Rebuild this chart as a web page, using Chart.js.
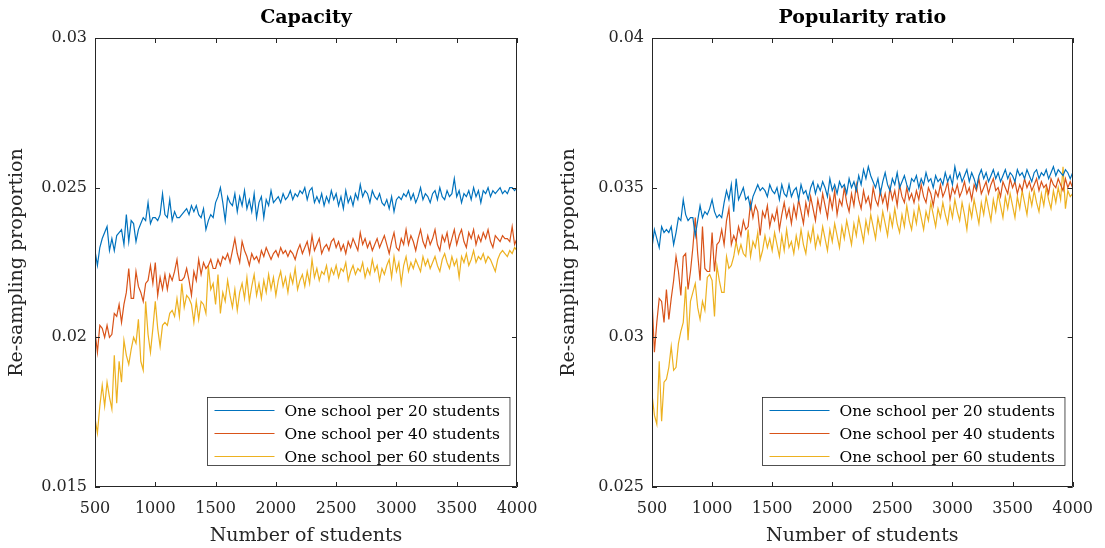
<!DOCTYPE html>
<html lang="en">
<head>
  <meta charset="UTF-8">
  <title>Re-sampling proportion</title>
  <style>
    body { margin: 0; background: #fff; }
    #wrap { position: relative; width: 1105px; height: 548px; }
    .pane { position: absolute; top: 0; height: 548px; }
    #left { left: 0; width: 552px; }
    #right { left: 552px; width: 553px; }
  </style>
</head>
<body>
  <div id="wrap">
    <div class="pane" id="left"><canvas id="capChart"></canvas></div>
    <div class="pane" id="right"><canvas id="popChart"></canvas></div>
  </div>

  <script src="https://cdn.jsdelivr.net/npm/chart.js"></script>

  <script>
    // number of students: 500, 520, ..., 4000
    const xStart = 500, xEnd = 4000, xStep = 20;
    const students = [];
    for (let s = xStart; s <= xEnd; s += xStep) students.push(s);

    const seriesLabels = ['One school per 20 students', 'One school per 40 students', 'One school per 60 students'];
    const colors = ['#0072BD', '#D95319', '#EDB120'];
    const xTicks = [500, 1000, 1500, 2000, 2500, 3000, 3500, 4000];
    const capTicks = [0.015, 0.02, 0.025, 0.03];
    const popTicks = [0.025, 0.03, 0.035, 0.04];

    // Capacity panel
    const capBlue = [
      0.0229,0.0224,0.0230,0.0233,0.0235,0.0237,0.0229,0.0233,0.0229,0.0234,
      0.0235,0.0236,0.0231,0.0241,0.0232,0.0239,0.0238,0.0232,0.0236,0.0238,
      0.0240,0.0239,0.0245,0.0238,0.0240,0.0240,0.0239,0.0241,0.0248,0.0241,
      0.0240,0.0246,0.0239,0.0242,0.0240,0.0240,0.0241,0.0242,0.0243,0.0241,
      0.0244,0.0242,0.0244,0.0241,0.0240,0.0243,0.0236,0.0239,0.0241,0.0240,
      0.0245,0.0247,0.0250,0.0245,0.0239,0.0247,0.0245,0.0244,0.0248,0.0242,
      0.0247,0.0244,0.0249,0.0243,0.0246,0.0242,0.0248,0.0240,0.0245,0.0247,
      0.0240,0.0246,0.0244,0.0249,0.0245,0.0246,0.0247,0.0245,0.0248,0.0246,
      0.0247,0.0249,0.0246,0.0248,0.0247,0.0249,0.0248,0.0250,0.0246,0.0249,
      0.0250,0.0245,0.0247,0.0245,0.0248,0.0244,0.0247,0.0245,0.0249,0.0246,
      0.0248,0.0244,0.0247,0.0243,0.0249,0.0245,0.0247,0.0244,0.0248,0.0246,
      0.0251,0.0247,0.0249,0.0248,0.0245,0.0249,0.0247,0.0246,0.0248,0.0245,
      0.0244,0.0246,0.0243,0.0247,0.0242,0.0246,0.0247,0.0246,0.0248,0.0247,
      0.0249,0.0246,0.0248,0.0245,0.0247,0.0250,0.0246,0.0248,0.0247,0.0245,
      0.0248,0.0249,0.0246,0.0250,0.0247,0.0246,0.0249,0.0247,0.0248,0.0253,
      0.0247,0.0249,0.0245,0.0248,0.0247,0.0249,0.0246,0.0250,0.0247,0.0249,
      0.0245,0.0249,0.0248,0.0250,0.0247,0.0249,0.0248,0.0249,0.0250,0.0248,
      0.0249,0.0248,0.0250,0.0250,0.0249,0.0250
    ];
    const capRed = [
      0.0202,0.0195,0.0204,0.0203,0.0200,0.0204,0.0200,0.0201,0.0208,0.0207,
      0.0211,0.0205,0.0211,0.0215,0.0223,0.0213,0.0213,0.0222,0.0217,0.0215,
      0.0212,0.0218,0.0219,0.0224,0.0218,0.0225,0.0214,0.0220,0.0216,0.0221,
      0.0216,0.0221,0.0219,0.0222,0.0226,0.0219,0.0219,0.0220,0.0223,0.0219,
      0.0214,0.0222,0.0219,0.0226,0.0221,0.0225,0.0223,0.0224,0.0226,0.0223,
      0.0223,0.0226,0.0224,0.0227,0.0226,0.0228,0.0225,0.0229,0.0233,0.0228,
      0.0225,0.0232,0.0229,0.0227,0.0224,0.0228,0.0226,0.0227,0.0225,0.0229,
      0.0227,0.0230,0.0228,0.0226,0.0228,0.0229,0.0227,0.0230,0.0228,0.0229,
      0.0227,0.0229,0.0228,0.0226,0.0229,0.0231,0.0228,0.0230,0.0232,0.0228,
      0.0234,0.0229,0.0231,0.0233,0.0228,0.0230,0.0231,0.0229,0.0232,0.0233,
      0.0230,0.0232,0.0229,0.0231,0.0228,0.0232,0.0230,0.0233,0.0231,0.0229,
      0.0235,0.0231,0.0233,0.0230,0.0232,0.0229,0.0231,0.0233,0.0230,0.0232,
      0.0234,0.0231,0.0228,0.0232,0.0235,0.0230,0.0229,0.0233,0.0231,0.0236,
      0.0231,0.0234,0.0232,0.0229,0.0233,0.0236,0.0232,0.0230,0.0234,0.0231,
      0.0233,0.0236,0.0231,0.0229,0.0234,0.0232,0.0235,0.0230,0.0233,0.0236,
      0.0231,0.0234,0.0236,0.0232,0.0230,0.0235,0.0233,0.0236,0.0231,0.0234,
      0.0232,0.0235,0.0233,0.0236,0.0232,0.0230,0.0234,0.0233,0.0232,0.0234,
      0.0233,0.0233,0.0232,0.0237,0.0231,0.0233
    ];
    const capYellow = [
      0.0173,0.0168,0.0177,0.0184,0.0177,0.0185,0.0180,0.0176,0.0194,0.0178,
      0.0192,0.0185,0.0199,0.0194,0.0191,0.0196,0.0200,0.0198,0.0206,0.0192,
      0.0189,0.0212,0.0201,0.0195,0.0203,0.0212,0.0203,0.0197,0.0204,0.0205,
      0.0204,0.0208,0.0209,0.0207,0.0213,0.0207,0.0218,0.0210,0.0214,0.0213,
      0.0211,0.0205,0.0212,0.0206,0.0212,0.0211,0.0208,0.0224,0.0216,0.0218,
      0.0211,0.0221,0.0208,0.0215,0.0212,0.0219,0.0214,0.0210,0.0216,0.0209,
      0.0215,0.0218,0.0213,0.0220,0.0212,0.0217,0.0221,0.0214,0.0218,0.0213,
      0.0219,0.0215,0.0221,0.0216,0.0220,0.0214,0.0219,0.0222,0.0217,0.0220,
      0.0215,0.0221,0.0218,0.0223,0.0216,0.0219,0.0221,0.0217,0.0222,0.0218,
      0.0226,0.0220,0.0223,0.0219,0.0222,0.0221,0.0224,0.0219,0.0223,0.0221,
      0.0224,0.0220,0.0223,0.0222,0.0225,0.0219,0.0222,0.0224,0.0221,0.0223,
      0.0222,0.0225,0.0220,0.0223,0.0221,0.0226,0.0222,0.0224,0.0219,0.0223,
      0.0221,0.0224,0.0226,0.0220,0.0227,0.0222,0.0225,0.0218,0.0224,0.0227,
      0.0222,0.0225,0.0223,0.0226,0.0224,0.0222,0.0227,0.0224,0.0226,0.0223,
      0.0225,0.0227,0.0224,0.0222,0.0226,0.0228,0.0225,0.0223,0.0227,0.0224,
      0.0226,0.0220,0.0227,0.0225,0.0228,0.0224,0.0226,0.0229,0.0225,0.0227,
      0.0226,0.0228,0.0225,0.0227,0.0226,0.0224,0.0222,0.0226,0.0228,0.0229,
      0.0228,0.0227,0.0229,0.0228,0.0230,0.0229
    ];

    // Popularity ratio panel
    const popBlue = [
      0.0330,0.0336,0.0333,0.0330,0.0337,0.0335,0.0336,0.0335,0.0337,0.0331,
      0.0335,0.0340,0.0339,0.0346,0.0341,0.0339,0.0340,0.0340,0.0334,0.0339,
      0.0344,0.0340,0.0342,0.0341,0.0343,0.0346,0.0342,0.0340,0.0341,0.0340,
      0.0345,0.0349,0.0346,0.0351,0.0342,0.0353,0.0346,0.0348,0.0350,0.0346,
      0.0347,0.0343,0.0347,0.0349,0.0351,0.0349,0.0350,0.0349,0.0347,0.0351,
      0.0349,0.0348,0.0350,0.0346,0.0351,0.0348,0.0347,0.0351,0.0347,0.0349,
      0.0350,0.0346,0.0351,0.0348,0.0349,0.0346,0.0350,0.0352,0.0348,0.0351,
      0.0349,0.0352,0.0350,0.0347,0.0353,0.0349,0.0351,0.0348,0.0352,0.0350,
      0.0351,0.0348,0.0353,0.0350,0.0352,0.0349,0.0354,0.0351,0.0356,0.0353,
      0.0357,0.0354,0.0352,0.0350,0.0353,0.0348,0.0352,0.0355,0.0351,0.0349,
      0.0353,0.0351,0.0355,0.0350,0.0352,0.0354,0.0351,0.0349,0.0353,0.0352,
      0.0354,0.0350,0.0353,0.0351,0.0355,0.0352,0.0353,0.0350,0.0354,0.0352,
      0.0353,0.0351,0.0355,0.0352,0.0354,0.0351,0.0357,0.0353,0.0355,0.0352,
      0.0354,0.0356,0.0352,0.0355,0.0353,0.0350,0.0354,0.0356,0.0353,0.0355,
      0.0352,0.0354,0.0356,0.0353,0.0355,0.0352,0.0354,0.0356,0.0353,0.0355,
      0.0354,0.0352,0.0356,0.0354,0.0355,0.0353,0.0356,0.0354,0.0352,0.0355,
      0.0356,0.0353,0.0355,0.0354,0.0356,0.0353,0.0355,0.0357,0.0354,0.0356,
      0.0355,0.0354,0.0356,0.0355,0.0353,0.0355
    ];
    const popRed = [
      0.0313,0.0295,0.0305,0.0313,0.0312,0.0305,0.0316,0.0306,0.0313,0.0319,
      0.0327,0.0322,0.0314,0.0327,0.0328,0.0316,0.0322,0.0330,0.0340,0.0328,
      0.0319,0.0337,0.0323,0.0322,0.0322,0.0335,0.0322,0.0331,0.0332,0.0336,
      0.0331,0.0339,0.0343,0.0331,0.0334,0.0332,0.0337,0.0334,0.0339,0.0336,
      0.0337,0.0345,0.0340,0.0344,0.0342,0.0334,0.0342,0.0340,0.0344,0.0337,
      0.0341,0.0339,0.0343,0.0336,0.0341,0.0345,0.0340,0.0343,0.0338,0.0344,
      0.0340,0.0346,0.0342,0.0338,0.0345,0.0341,0.0347,0.0343,0.0339,0.0346,
      0.0342,0.0348,0.0344,0.0340,0.0347,0.0343,0.0349,0.0341,0.0346,0.0344,
      0.0350,0.0345,0.0342,0.0348,0.0344,0.0351,0.0346,0.0343,0.0349,0.0345,
      0.0347,0.0343,0.0350,0.0346,0.0344,0.0349,0.0345,0.0348,0.0343,0.0350,
      0.0346,0.0349,0.0344,0.0351,0.0347,0.0345,0.0350,0.0346,0.0348,0.0345,
      0.0349,0.0346,0.0351,0.0347,0.0345,0.0350,0.0348,0.0344,0.0349,0.0347,
      0.0351,0.0347,0.0349,0.0352,0.0346,0.0350,0.0348,0.0351,0.0347,0.0349,
      0.0352,0.0348,0.0350,0.0346,0.0351,0.0349,0.0353,0.0348,0.0350,0.0352,
      0.0348,0.0351,0.0353,0.0349,0.0350,0.0347,0.0352,0.0350,0.0348,0.0353,
      0.0350,0.0352,0.0348,0.0351,0.0349,0.0353,0.0350,0.0352,0.0349,0.0351,
      0.0353,0.0349,0.0352,0.0350,0.0351,0.0348,0.0353,0.0351,0.0350,0.0353,
      0.0351,0.0349,0.0353,0.0350,0.0352,0.0350
    ];
    const popYellow = [
      0.0281,0.0274,0.0271,0.0292,0.0272,0.0285,0.0286,0.0290,0.0297,0.0289,
      0.0290,0.0298,0.0302,0.0305,0.0317,0.0299,0.0312,0.0315,0.0318,0.0310,
      0.0306,0.0312,0.0309,0.0320,0.0321,0.0319,0.0307,0.0324,0.0319,0.0315,
      0.0315,0.0327,0.0323,0.0324,0.0327,0.0332,0.0328,0.0331,0.0328,0.0327,
      0.0336,0.0327,0.0332,0.0330,0.0335,0.0326,0.0329,0.0334,0.0330,0.0333,
      0.0329,0.0335,0.0331,0.0327,0.0334,0.0329,0.0336,0.0330,0.0332,0.0328,
      0.0334,0.0330,0.0336,0.0331,0.0328,0.0335,0.0332,0.0337,0.0330,0.0334,
      0.0331,0.0337,0.0333,0.0329,0.0336,0.0332,0.0338,0.0334,0.0330,0.0337,
      0.0333,0.0339,0.0335,0.0331,0.0338,0.0334,0.0340,0.0336,0.0332,0.0339,
      0.0335,0.0341,0.0337,0.0333,0.0340,0.0336,0.0342,0.0338,0.0334,0.0341,
      0.0337,0.0343,0.0338,0.0335,0.0341,0.0337,0.0344,0.0339,0.0336,0.0342,
      0.0338,0.0344,0.0340,0.0336,0.0342,0.0339,0.0345,0.0341,0.0337,0.0343,
      0.0340,0.0345,0.0341,0.0338,0.0344,0.0340,0.0346,0.0342,0.0339,0.0345,
      0.0341,0.0336,0.0344,0.0340,0.0346,0.0342,0.0338,0.0345,0.0341,0.0347,
      0.0343,0.0339,0.0346,0.0342,0.0348,0.0344,0.0340,0.0347,0.0343,0.0348,
      0.0344,0.0340,0.0347,0.0343,0.0349,0.0345,0.0341,0.0348,0.0344,0.0349,
      0.0345,0.0342,0.0348,0.0344,0.0350,0.0346,0.0343,0.0349,0.0345,0.0350,
      0.0346,0.0357,0.0343,0.0349,0.0347,0.0348
    ];

    const axisColor = '#262626';
    const serif = "'DejaVu Serif', 'Liberation Serif', serif";

    // title over the plot, box round it, inward ticks, legend in the lower right corner
    const matlabAxes = {
      id: 'matlabAxes',
      afterDatasetsDraw(chart, args, opts) {
        const { ctx, chartArea: a, scales: { x, y } } = chart;
        ctx.save();
        ctx.strokeStyle = axisColor;
        ctx.lineWidth = 1;
        ctx.beginPath();
        ctx.rect(Math.round(a.left) + 0.5, Math.round(a.top) + 0.5,
                 Math.round(a.width) - 1, Math.round(a.height) - 1);
        const len = 5;
        x.ticks.forEach(t => {
          const p = Math.round(x.getPixelForValue(t.value)) + 0.5;
          ctx.moveTo(p, a.bottom); ctx.lineTo(p, a.bottom - len);
          ctx.moveTo(p, a.top); ctx.lineTo(p, a.top + len);
        });
        y.ticks.forEach(t => {
          const p = Math.round(y.getPixelForValue(t.value)) + 0.5;
          ctx.moveTo(a.left, p); ctx.lineTo(a.left + len, p);
          ctx.moveTo(a.right, p); ctx.lineTo(a.right - len, p);
        });
        ctx.stroke();

        // title
        ctx.fillStyle = '#000';
        ctx.font = 'bold 19px ' + serif;
        ctx.textAlign = 'center';
        ctx.textBaseline = 'middle';
        ctx.fillText(opts.title, (a.left + a.right) / 2, 18);

        // legend
        ctx.textAlign = 'left';
        ctx.font = '15.5px ' + serif;
        const labels = chart.data.datasets.map(d => d.label);
        const tw = Math.max(...labels.map(l => ctx.measureText(l).width));
        const w = 77 + tw + 10, h = 68;
        const bx = Math.round(a.right - 8 - w) + 0.5, by = Math.round(a.bottom - 22 - h) + 0.5;
        ctx.fillStyle = '#fff';
        ctx.fillRect(bx, by, w, h);
        ctx.strokeStyle = axisColor;
        ctx.lineWidth = 0.8;
        ctx.strokeRect(bx, by, w, h);
        chart.data.datasets.forEach((d, i) => {
          const cy = by + 13 + i * 23;
          ctx.strokeStyle = d.borderColor;
          ctx.lineWidth = 1.2;
          ctx.beginPath();
          ctx.moveTo(bx + 7, cy); ctx.lineTo(bx + 67, cy);
          ctx.stroke();
          ctx.fillStyle = '#000';
          ctx.fillText(d.label, bx + 77, cy + 1);
        });
        ctx.restore();
      }
    };

    function makeChart(canvasId, title, series, yMin, yMax, yTicks, yWidth, padRight) {
      const datasets = series.map((vals, i) => ({
        label: seriesLabels[i],
        data: students.map((s, j) => ({ x: s, y: vals[j] })),
        borderColor: colors[i],
        borderWidth: 1.2,
        pointRadius: 0,
        tension: 0,
        fill: false
      }));
      return new Chart(document.getElementById(canvasId), {
        type: 'line',
        data: { datasets },
        plugins: [matlabAxes],
        options: {
          responsive: true,
          maintainAspectRatio: false,
          animation: false,
          layout: { padding: { left: 0, right: padRight, top: 38, bottom: 0 } },
          plugins: {
            legend: { display: false },
            tooltip: { enabled: false },
            title: { display: false },
            matlabAxes: { title: title }
          },
          scales: {
            x: {
              type: 'linear',
              min: xTicks[0],
              max: xTicks[xTicks.length - 1],
              afterBuildTicks: s => { s.ticks = xTicks.map(v => ({ value: v })); },
              afterFit: s => { s.height = 61; },
              grid: { display: false, drawTicks: false },
              border: { display: false },
              ticks: {
                color: axisColor,
                font: { family: serif, size: 16 },
                padding: 12,
                maxRotation: 0,
                callback: v => String(v)
              },
              title: {
                display: true,
                text: 'Number of students',
                color: axisColor,
                font: { family: serif, size: 19 },
                padding: { top: 0, bottom: 1 }
              }
            },
            y: {
              min: yMin,
              max: yMax,
              afterBuildTicks: s => { s.ticks = yTicks.map(v => ({ value: v })); },
              afterFit: s => { s.width = yWidth; },
              grid: { display: false, drawTicks: false },
              border: { display: false },
              ticks: {
                color: axisColor,
                font: { family: serif, size: 16 },
                padding: 8,
                callback: v => String(+v.toFixed(4))
              },
              title: {
                display: true,
                text: 'Re-sampling proportion',
                color: axisColor,
                font: { family: serif, size: 19 },
                padding: { top: 6, bottom: 0 }
              }
            }
          }
        }
      });
    }

    makeChart('capChart', 'Capacity', [capBlue, capRed, capYellow], 0.015, 0.03, capTicks, 95, 35);
    makeChart('popChart', 'Popularity ratio', [popBlue, popRed, popYellow], 0.025, 0.04, popTicks, 100, 30);
  </script>
</body>
</html>
